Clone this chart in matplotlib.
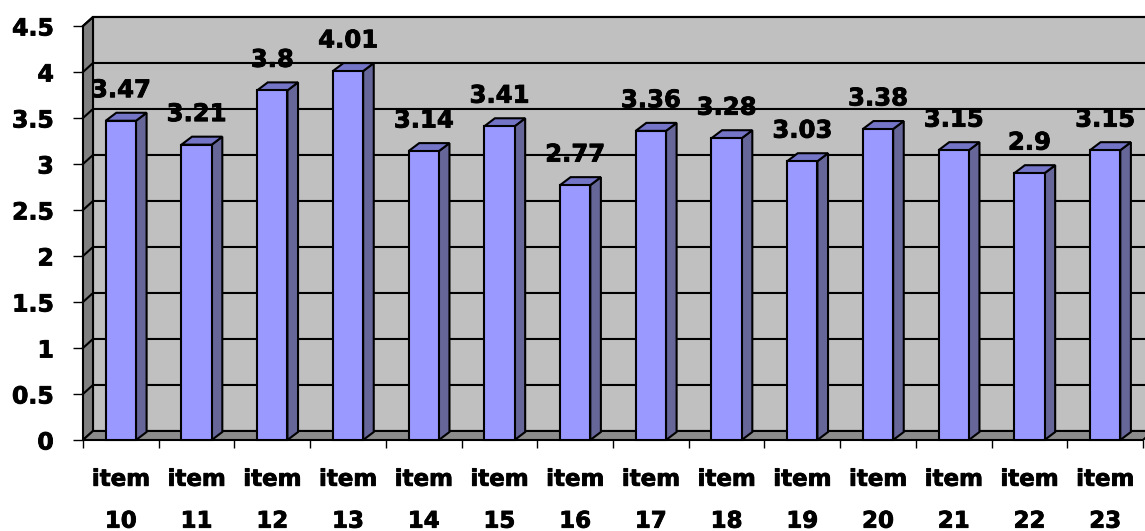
import matplotlib.pyplot as plt
import matplotlib.patheffects as pe
from matplotlib.patches import Polygon

items = ['item\n10', 'item\n11', 'item\n12', 'item\n13', 'item\n14', 'item\n15', 'item\n16',
         'item\n17', 'item\n18', 'item\n19', 'item\n20', 'item\n21', 'item\n22', 'item\n23']
scores = [3.47, 3.21, 3.8, 4.01, 3.14, 3.41, 2.77, 3.36, 3.28, 3.03, 3.38, 3.15, 2.9, 3.15]
yticks = [0, 0.5, 1, 1.5, 2, 2.5, 3, 3.5, 4, 4.5]
ytick_labels = ['0', '0.5', '1', '1.5', '2', '2.5', '3', '3.5', '4', '4.5']

plt.rcParams['font.family'] = ['DejaVu Sans']
plt.rcParams['font.weight'] = 'bold'

W, H = 1145, 531
fig = plt.figure(figsize=(W / 100, H / 100), dpi=100)
ax = fig.add_axes([83 / W, 91 / H, 1060 / W, 414 / H])
n = len(scores)
x0, x1 = -0.5, n - 0.5
ymax = yticks[-1]
ax.set_xlim(x0, x1)
ax.set_ylim(0, ymax)
for s in ax.spines.values():
    s.set_visible(False)
ax.patch.set_visible(False)

# heavier strokes on all text
heavy = [pe.withStroke(linewidth=0.6, foreground='black')]

# fake 3d: depth offsets for walls and bars (data units)
dx, dy = 0.132, 0.098
bdx, bdy = 0.14, 0.087
bw = 0.40
lw = 1.5


def poly(pts, fc, z):
    ax.add_patch(Polygon(pts, closed=True, fc=fc, ec='black', lw=lw,
                         joinstyle='miter', clip_on=False, zorder=z))


# walls and floor
poly([(x0 + dx, dy), (x1 + dx, dy), (x1 + dx, ymax + dy), (x0 + dx, ymax + dy)], '#C0C0C0', 1)
poly([(x0, 0), (x0 + dx, dy), (x0 + dx, ymax + dy), (x0, ymax)], '#808080', 1)
poly([(x0, 0), (x1, 0), (x1 + dx, dy), (x0 + dx, dy)], '#8C8C8C', 1)

# gridlines across left wall and back wall
for v in yticks[1:]:
    ax.plot([x0, x0 + dx, x1 + dx], [v, v + dy, v + dy], color='black', lw=lw,
            clip_on=False, zorder=2, solid_joinstyle='miter')

# bars
for i, v in enumerate(scores):
    l, r = i - bw / 2, i + bw / 2
    poly([(r, 0), (r + bdx, bdy), (r + bdx, v + bdy), (r, v)], '#666699', 3)
    poly([(l, v), (r, v), (r + bdx, v + bdy), (l + bdx, v + bdy)], '#7575C8', 3)
    poly([(l, 0), (r, 0), (r, v), (l, v)], '#9999FF', 4)
    ax.annotate(f'{v:g}', (i, v), xytext=(0, 22), textcoords='offset points',
                ha='center', va='center', fontsize=17.5, fontweight='bold', zorder=6,
                path_effects=heavy)

ax.set_yticks(yticks)
ax.set_yticklabels(ytick_labels)
ax.tick_params(axis='y', length=7, width=1, direction='out', labelsize=17, pad=14)

ax.set_xticks([x0 + k for k in range(n + 1)])
ax.set_xticklabels([])
ax.set_xticks(range(n), minor=True)
ax.set_xticklabels(items, minor=True, fontsize=16.5, fontweight='bold', linespacing=2.05)
ax.tick_params(axis='x', which='major', length=6, width=1, direction='out')
ax.tick_params(axis='x', which='minor', length=0, pad=20)

for t in ax.get_yticklabels() + ax.get_xticklabels(minor=True):
    t.set_path_effects(heavy)

fig.savefig('out.png', dpi=100, facecolor='white')
